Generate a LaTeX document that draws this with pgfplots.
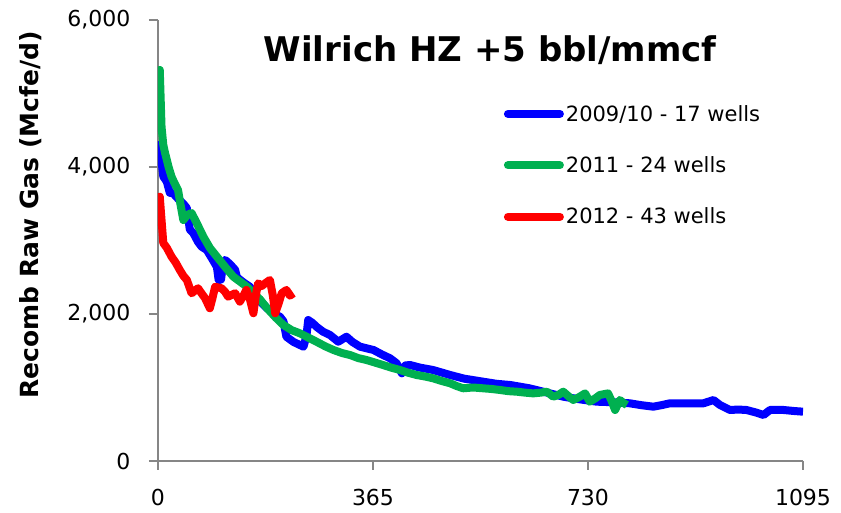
\documentclass[border=0pt]{standalone}
\usepackage{fontspec}
\setmainfont{DejaVu Sans}
\usepackage{pgfplots}
\pgfplotsset{compat=1.18}
\definecolor{serblue}{RGB}{0,0,255}
\definecolor{sergreen}{RGB}{0,176,80}
\definecolor{serred}{RGB}{255,0,0}
\definecolor{axgray}{RGB}{134,134,134}

\begin{document}
\begin{tikzpicture}
% page frame, 1pt = 1px of the reference
\path (-158pt,-52pt) rectangle (683pt,461pt);
\begin{axis}[
    at={(0pt,0pt)}, anchor=south west,
    width=645pt, height=441pt, scale only axis,
    xmin=0, xmax=1095, ymin=0, ymax=6000,
    axis x line=bottom, axis y line=left,
    axis line style={axgray, line width=1.5pt, -},
    tick style={axgray, line width=1.5pt},
    tick align=outside, major tick length=9pt,
    xtick={0,365,730,1095}, ytick={0,2000,4000,6000},
    /pgf/number format/assume math mode=true,
    /pgf/number format/1000 sep={,},
    xticklabel style={/pgf/number format/1000 sep={}, yshift=-16pt},
    yticklabel style={xshift=-15pt},
    ticklabel style={font=\fontsize{22}{26}\selectfont, black},
    ylabel={Recomb Raw Gas (Mcfe/d)},
    every axis y label/.style={at={(rel axis cs:-0.198,0.558)}, rotate=90, anchor=center,
        font=\bfseries\fontsize{25}{29}\selectfont},
    clip mode=individual,
    legend style={at={(rel axis cs:0.536,0.812)}, anchor=north west, draw=none, fill=none,
        font=\fontsize{21}{25}\selectfont, row sep=30pt, inner sep=0pt},
    legend cell align=left,
    legend image code/.code={\draw[#1, line cap=round] (0pt,0pt) -- (52pt,0pt);},
]
\addplot[serblue, line width=8pt, line join=round] coordinates {
(0,4350) (5,4150) (9,3870) (15,3800) (20,3650) (26,3640) (35,3560) (43,3500)
(49,3440) (54,3150) (60,3100) (68,2980) (74,2916) (83,2870) (92,2750) (100,2640)
(103,2460) (107,2470) (110,2650) (114,2735) (122,2680) (131,2600) (134,2500)
(145,2430) (156,2370) (170,2200) (185,2080) (200,1990) (207,1963) (213,1900)
(218,1690) (230,1620) (247,1555) (252,1700) (255,1918) (262,1880) (269,1827)
(280,1760) (292,1714) (306,1623) (320,1691) (330,1620) (343,1555) (366,1510)
(380,1450) (394,1397) (405,1330) (414,1193) (420,1300) (428,1306) (445,1270)
(467,1238) (496,1170) (520,1120) (552,1079) (575,1050) (598,1034) (630,990)
(654,943) (688,875) (715,840) (745,807) (770,800) (801,785) (820,760) (841,739)
(855,760) (869,785) (903,785) (926,785) (943,830) (954,762) (971,694) (985,700)
(999,694) (1015,660) (1028,626) (1039,694) (1062,694) (1080,680) (1095,671)
};
\addlegendentry{2009/10 - 17 wells}
\addplot[sergreen, line width=8pt, line join=round] coordinates {
(0,5300) (3,5320) (6,4548) (9,4300) (12,4190) (18,4000) (23,3868) (28,3780)
(34,3687) (38,3500) (43,3279) (50,3350) (57,3374) (65,3250) (77,3052) (88,2900)
(100,2780) (114,2640) (128,2507) (151,2371) (173,2200) (185,2080) (200,1950)
(213,1850) (227,1780) (241,1737) (255,1680) (269,1623) (284,1560) (298,1510)
(312,1470) (326,1442) (340,1400) (354,1374) (368,1340) (382,1306) (396,1270)
(411,1238) (425,1200) (439,1170) (453,1150) (467,1125) (481,1090) (496,1057)
(507,1020) (518,989) (535,1000) (552,989) (566,980) (581,966) (595,950) (609,943)
(623,930) (637,920) (650,930) (660,943) (671,875) (680,900) (688,943) (697,880)
(705,830) (715,870) (725,920) (733,807) (742,850) (750,898) (764,920) (770,820)
(776,694) (784,830) (790,790) (796,762)
};
\addlegendentry{2011 - 24 wells}
\addplot[serred, line width=8pt, line join=round] coordinates {
(0,3550) (3,3596) (6,3279) (9,2966) (15,2900) (23,2780) (30,2700) (37,2599)
(43,2520) (49,2463) (57,2282) (63,2320) (68,2350) (74,2280) (80,2214) (88,2078)
(92,2200) (97,2371) (108,2350) (114,2300) (119,2236) (125,2260) (131,2282)
(139,2168) (145,2250) (150,2327) (156,2200) (162,2010) (166,2250) (170,2418)
(176,2380) (182,2418) (190,2463) (195,2250) (199,2010) (205,2150) (210,2282)
(218,2327) (224,2250) (230,2282)
};
\addlegendentry{2012 - 43 wells}
\node[font=\bfseries\fontsize{34}{38}\selectfont, anchor=base] at (axis cs:564,5430)
    {Wilrich HZ +5 bbl/mmcf};
\end{axis}
\end{tikzpicture}
\end{document}
